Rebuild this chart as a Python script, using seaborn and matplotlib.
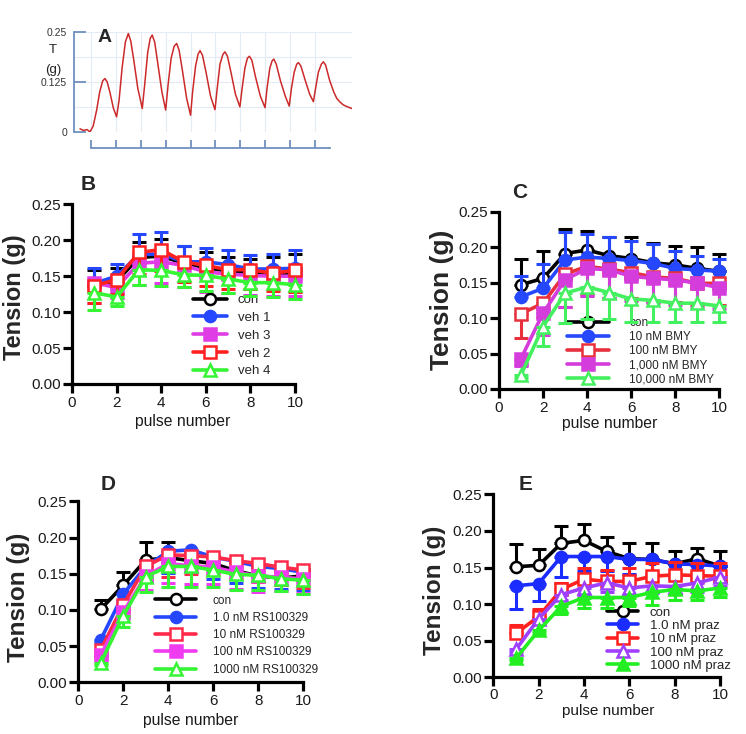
import numpy as np
import matplotlib
matplotlib.use("Agg")
import matplotlib.pyplot as plt
import seaborn as sns

# ---- data ----
pulse = [1, 2, 3, 4, 5, 6, 7, 8, 9, 10]

# panel A: raw tension trace (key points), time in pulse intervals
trace_t = [-0.44, -0.30, -0.15, -0.04, 0.09, 0.23, 0.35, 0.47, 0.56, 0.65, 0.76, 0.90, 1.03,
           1.13, 1.25, 1.38, 1.50, 1.60, 1.72, 1.88, 2.06,
           2.16, 2.28, 2.38, 2.46, 2.56, 2.70, 2.85, 3.00,
           3.10, 3.22, 3.34, 3.44, 3.54, 3.67, 3.84, 4.00,
           4.08, 4.20, 4.30, 4.38, 4.48, 4.62, 4.80, 4.98,
           5.07, 5.18, 5.30, 5.38, 5.48, 5.62, 5.80, 5.98,
           6.07, 6.18, 6.28, 6.36, 6.46, 6.60, 6.80, 6.99,
           7.07, 7.18, 7.27, 7.34, 7.44, 7.60, 7.80, 7.96,
           8.05, 8.16, 8.26, 8.33, 8.43, 8.60, 8.78, 8.93,
           9.02, 9.13, 9.25, 9.33, 9.42, 9.58, 9.75, 9.87,
           10.00, 10.13, 10.30, 10.47]
trace_v = [0.008, 0.004, 0.006, 0.000, 0.015, 0.055, 0.100, 0.128, 0.134, 0.126, 0.100, 0.060, 0.038,
           0.080, 0.160, 0.225, 0.247, 0.228, 0.180, 0.110, 0.059,
           0.120, 0.200, 0.235, 0.243, 0.225, 0.165, 0.100, 0.055,
           0.120, 0.185, 0.215, 0.222, 0.205, 0.155, 0.085, 0.042,
           0.100, 0.165, 0.195, 0.204, 0.192, 0.150, 0.090, 0.056,
           0.110, 0.170, 0.195, 0.201, 0.190, 0.150, 0.095, 0.063,
           0.110, 0.160, 0.185, 0.190, 0.180, 0.140, 0.090, 0.061,
           0.110, 0.160, 0.178, 0.183, 0.170, 0.130, 0.090, 0.065,
           0.110, 0.150, 0.170, 0.174, 0.165, 0.130, 0.095, 0.076,
           0.110, 0.150, 0.170, 0.176, 0.168, 0.130, 0.100, 0.084,
           0.075, 0.068, 0.063, 0.059]

# panel B: vehicle
B_labels = ["con", "veh 1", "veh 3", "veh 2", "veh 4"]
B_vals = [
    [0.136, 0.143, 0.176, 0.178, 0.168, 0.162, 0.157, 0.154, 0.152, 0.152],
    [0.140, 0.150, 0.180, 0.181, 0.170, 0.170, 0.166, 0.160, 0.160, 0.161],
    [0.141, 0.134, 0.168, 0.170, 0.165, 0.156, 0.153, 0.151, 0.150, 0.150],
    [0.137, 0.145, 0.183, 0.187, 0.170, 0.165, 0.159, 0.159, 0.154, 0.158],
    [0.127, 0.121, 0.159, 0.158, 0.152, 0.151, 0.146, 0.141, 0.141, 0.138],
]
B_err = [
    [0.022, 0.018, 0.021, 0.024, 0.024, 0.022, 0.020, 0.020, 0.024, 0.029],
    [0.021, 0.017, 0.028, 0.030, 0.022, 0.019, 0.020, 0.020, 0.021, 0.026],
    [0.029, 0.015, 0.030, 0.030, 0.030, 0.028, 0.027, 0.027, 0.028, 0.028],
    [0.025, 0.020, 0.030, 0.030, 0.028, 0.028, 0.027, 0.027, 0.025, 0.030],
    [0.024, 0.013, 0.021, 0.021, 0.017, 0.021, 0.019, 0.019, 0.020, 0.020],
]
B_dir = ["up", "up", "down", "down", "down"]

# panel C: BMY
C_labels = ["con", "10 nM BMY", "100 nM BMY", "1,000 nM BMY", "10,000 nM BMY"]
C_vals = [
    [0.147, 0.156, 0.191, 0.196, 0.188, 0.184, 0.178, 0.175, 0.170, 0.166],
    [0.130, 0.142, 0.182, 0.186, 0.184, 0.181, 0.177, 0.170, 0.168, 0.166],
    [0.106, 0.121, 0.162, 0.173, 0.169, 0.164, 0.158, 0.156, 0.149, 0.149],
    [0.043, 0.107, 0.154, 0.170, 0.168, 0.159, 0.156, 0.154, 0.149, 0.143],
    [0.020, 0.088, 0.135, 0.144, 0.136, 0.127, 0.125, 0.121, 0.121, 0.117],
]
C_err = [
    [0.037, 0.039, 0.034, 0.027, 0.027, 0.031, 0.028, 0.026, 0.030, 0.025],
    [0.029, 0.034, 0.040, 0.033, 0.031, 0.027, 0.028, 0.025, 0.020, 0.018],
    [0.034, 0.020, 0.046, 0.040, 0.040, 0.035, 0.035, 0.033, 0.030, 0.030],
    [0.011, 0.031, 0.039, 0.039, 0.040, 0.035, 0.035, 0.035, 0.033, 0.030],
    [0.004, 0.027, 0.042, 0.045, 0.038, 0.032, 0.030, 0.026, 0.027, 0.023],
]
C_dir = ["up", "up", "down", "down", "down"]

# panel D: RS100329
D_labels = ["con", "1.0 nM RS100329", "10 nM RS100329", "100 nM RS100329", "1000 nM RS100329"]
D_vals = [
    [0.101, 0.134, 0.169, 0.172, 0.168, 0.164, 0.154, 0.147, 0.144, 0.147],
    [0.059, 0.122, 0.160, 0.181, 0.183, 0.173, 0.167, 0.160, 0.157, 0.152],
    [0.045, 0.107, 0.160, 0.176, 0.175, 0.173, 0.168, 0.164, 0.159, 0.155],
    [0.038, 0.097, 0.147, 0.164, 0.161, 0.159, 0.152, 0.147, 0.145, 0.143],
    [0.027, 0.092, 0.146, 0.160, 0.160, 0.155, 0.149, 0.148, 0.143, 0.141],
]
D_err = [
    [0.012, 0.018, 0.025, 0.022, 0.012, 0.010, 0.012, 0.012, 0.012, 0.010],
    [0.004, 0.010, 0.020, 0.030, 0.030, 0.030, 0.030, 0.030, 0.028, 0.025],
    [0.008, 0.015, 0.020, 0.030, 0.025, 0.025, 0.025, 0.025, 0.025, 0.025],
    [0.006, 0.010, 0.020, 0.027, 0.025, 0.023, 0.023, 0.022, 0.019, 0.020],
    [0.003, 0.016, 0.021, 0.029, 0.028, 0.024, 0.021, 0.020, 0.017, 0.019],
]
D_dir = ["up", "down", "down", "down", "down"]

# panel E: prazosin
E_labels = ["con", "1.0 nM praz", "10 nM praz", "100 nM praz", "1000 nM praz"]
E_vals = [
    [0.151, 0.153, 0.183, 0.187, 0.172, 0.162, 0.161, 0.155, 0.162, 0.152],
    [0.125, 0.128, 0.165, 0.165, 0.165, 0.161, 0.161, 0.155, 0.154, 0.152],
    [0.060, 0.083, 0.120, 0.134, 0.131, 0.131, 0.138, 0.140, 0.139, 0.138],
    [0.038, 0.080, 0.113, 0.122, 0.129, 0.122, 0.125, 0.124, 0.129, 0.137],
    [0.026, 0.064, 0.097, 0.109, 0.109, 0.109, 0.116, 0.120, 0.118, 0.122],
]
E_err = [
    [0.031, 0.022, 0.024, 0.022, 0.020, 0.021, 0.022, 0.017, 0.015, 0.020],
    [0.032, 0.024, 0.028, 0.020, 0.020, 0.020, 0.020, 0.020, 0.020, 0.020],
    [0.011, 0.010, 0.009, 0.015, 0.016, 0.018, 0.018, 0.017, 0.017, 0.018],
    [0.004, 0.006, 0.008, 0.010, 0.012, 0.010, 0.010, 0.010, 0.012, 0.012],
    [0.003, 0.004, 0.011, 0.015, 0.014, 0.012, 0.017, 0.014, 0.012, 0.012],
]
E_dir = ["up", "down", "up", "down", "down"]

# ---- style ----
sns.set_theme(style="ticks")
plt.rcParams["font.family"] = ["Liberation Sans", "DejaVu Sans"]

W, H = 746, 734
fig = plt.figure(figsize=(W / 100, H / 100), dpi=100)


def rect(l, t, r, b):
    return [l / W, 1 - b / H, (r - l) / W, (b - t) / H]


def ftext(x, y, s, **kw):
    fig.text(x / W, 1 - y / H, s, ha="center", va="center", **kw)


# ---- panel A ----
axA = fig.add_axes(rect(74, 32.3, 352, 132))
sns.lineplot(x=trace_t, y=trace_v, ax=axA, color="#cc2a2a", linewidth=1.1,
             sort=False, estimator=None)
axA.set_xlim(-0.68, 10.48)
axA.set_ylim(0, 0.25)
ablue = "#7090c0"
for s in ["top", "right"]:
    axA.spines[s].set_visible(False)
axA.spines["left"].set_color(ablue)
axA.spines["left"].set_linewidth(1.3)
axA.spines["bottom"].set_color(ablue)
axA.spines["bottom"].set_linewidth(1.3)
axA.spines["bottom"].set_position(("outward", 11.5))
axA.spines["bottom"].set_bounds(0, 9.6)
axA.set_xticks(range(10))
axA.set_xticklabels([])
axA.set_yticks([0, 0.125, 0.25])
axA.set_yticklabels(["0", "0.125", "0.25"])
axA.tick_params(axis="x", direction="in", length=6, width=1.3, color=ablue)
axA.tick_params(axis="y", direction="in", length=8.5, width=1.3, color=ablue,
                labelsize=7.5, labelcolor="#333333", pad=5)
axA.set_yticks([0.0625, 0.1875], minor=True)
axA.tick_params(which="minor", length=0)
axA.grid(True, which="both", color="#e3ecf6", linewidth=0.8)
axA.set_xlabel("")
axA.set_ylabel("")
ftext(53, 50, "T", fontsize=9.5, color="#222222")
ftext(53, 70, "(g)", fontsize=9.5, color="#222222")
ftext(105, 38, "A", fontsize=14, weight="bold")


# ---- panels B-E ----
def draw_panel(box, labels, vals, errs, dirs, colors, markers, filled, leg):
    ax = fig.add_axes(rect(*box))
    for i, lab in enumerate(labels):
        c = colors[i]
        e = np.array(errs[i])
        z = np.zeros_like(e)
        yerr = [z, e] if dirs[i] == "up" else [e, z]
        ax.errorbar(pulse, vals[i], yerr=yerr, fmt="none", ecolor=c, elinewidth=2.2,
                    capsize=5, capthick=2.2, clip_on=False, zorder=2 + i)
        sns.lineplot(x=pulse, y=vals[i], ax=ax, color=c, linewidth=2.6,
                     marker=markers[i], markersize=8,
                     markerfacecolor=c if filled[i] else "white",
                     markeredgecolor=c, markeredgewidth=1.8,
                     label=lab, clip_on=False, zorder=2.5 + i)
    ax.set_xlim(0, 10)
    ax.set_ylim(0, 0.25)
    ax.set_xticks([0, 2, 4, 6, 8, 10])
    ax.set_yticks([0, 0.05, 0.10, 0.15, 0.20, 0.25])
    ax.set_yticklabels(["0.00", "0.05", "0.10", "0.15", "0.20", "0.25"])
    sns.despine(ax=ax)
    for s in ["left", "bottom"]:
        ax.spines[s].set_linewidth(2.3)
        ax.spines[s].set_color("black")
    ax.tick_params(direction="out", length=6.5, width=2.3, color="black",
                   labelsize=11, labelcolor="#1a1a1a")
    ax.tick_params(axis="y", pad=1.5)
    ax.tick_params(axis="x", pad=leg.get("xpad", 2))
    ax.set_xlabel("")
    ax.set_ylabel("")
    handles, hl = ax.get_legend_handles_labels()
    ax.legend(handles, hl, loc="upper left",
              bbox_to_anchor=(leg["x"] / W, 1 - leg["y"] / H),
              bbox_transform=fig.transFigure, frameon=False, borderpad=0,
              borderaxespad=0, fontsize=leg["fs"], handlelength=leg["hl"],
              handletextpad=leg["tp"], labelspacing=leg["ls"])
    return ax


black, blue, green = "#000000", "#2548ff", "#35f535"

draw_panel((72, 204.3, 295, 384), B_labels, B_vals, B_err, B_dir,
           [black, blue, "#e03ce6", "#ff2020", green],
           ["o", "o", "s", "s", "^"], [False, True, True, False, False],
           dict(x=193, y=294, fs=9.5, hl=2.6, tp=0.8, ls=0.42))
draw_panel((499, 211.7, 719.3, 389), C_labels, C_vals, C_err, C_dir,
           [black, blue, "#e8303c", "#d43cdc", "#45f060"],
           ["o", "o", "s", "s", "^"], [False, True, False, True, False],
           dict(x=566.7, y=317.5, fs=8.5, hl=3.6, tp=1.7, ls=0.16))
draw_panel((78.3, 501.3, 303.3, 682.3), D_labels, D_vals, D_err, D_dir,
           [black, blue, "#ff2a4a", "#f03cf0", green],
           ["o", "o", "s", "s", "^"], [False, True, False, True, False],
           dict(x=155, y=594.5, fs=8.5, hl=3.5, tp=1.4, ls=0.45))
draw_panel((493.3, 494.3, 720, 677.3), E_labels, E_vals, E_err, E_dir,
           [black, "#1a2cff", "#ff2020", "#a040ff", "#22ee22"],
           ["o", "o", "s", "^", "^"], [False, True, False, False, True],
           dict(x=606.7, y=606.5, fs=9.5, hl=2.4, tp=0.85, ls=0.08, xpad=1))

# axis titles and panel letters
for x, y, fs in [(15, 297, 17), (441.7, 300, 19), (18.3, 597, 17.5), (434, 590, 17.5)]:
    ftext(x, y, "Tension (g)", fontsize=fs, weight="bold", rotation=90)
for x, y, fs in [(183, 421.7, 11.3), (610, 423.3, 11.3), (191, 720, 11.3), (607.7, 711.5, 11)]:
    ftext(x, y, "pulse number", fontsize=fs, color="#1a1a1a")
for x, y, s in [(88, 185, "B"), (520, 192, "C"), (108, 484, "D"), (526, 485, "E")]:
    ftext(x, y, s, fontsize=15, weight="bold")

fig.savefig("out.png", dpi=100)
